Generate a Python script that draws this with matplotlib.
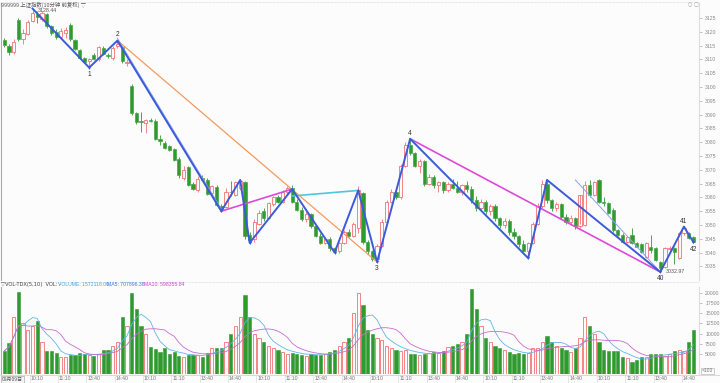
import matplotlib.pyplot as plt
import numpy as np
import pandas as pd

plt.rcParams['font.family'] = ['Liberation Sans', 'Noto Sans CJK SC', 'DejaVu Sans']

# 10-minute bars, 3 bars of the previous session + 6 sessions x 24 bars
opens = [3117.0, 3115.0, 3112.5,
         3124.3, 3117.5, 3119.2, 3124.0, 3126.5, 3124.6, 3126.3, 3122.0, 3120.0, 3118.2, 3119.6, 3122.3,
         3117.0, 3113.4, 3110.5, 3109.4, 3111.6, 3110.2, 3114.2, 3111.6, 3110.4, 3114.7, 3114.5, 3108.5,
         3100.5, 3090.5, 3087.5, 3086.9, 3088.0, 3087.8, 3081.0, 3079.8, 3078.5, 3077.5, 3074.0, 3067.0,
         3071.0, 3065.0, 3062.5, 3067.0, 3066.2, 3061.5, 3063.8, 3057.0, 3056.5, 3062.0, 3061.0, 3063.5,
         3065.5, 3046.5, 3044.8, 3050.5, 3055.0, 3052.5, 3057.5, 3060.0, 3058.5, 3062.0, 3063.3, 3058.5,
         3055.5, 3052.0, 3054.0, 3049.5, 3046.0, 3043.5, 3045.0, 3041.5, 3040.5, 3043.5, 3047.5, 3046.0,
         3049.0, 3061.5, 3044.0, 3040.5, 3037.5, 3042.5, 3051.0, 3058.5, 3062.0, 3060.0, 3071.5, 3079.0,
         3076.0, 3071.5, 3073.0, 3065.0, 3067.5, 3064.5, 3065.5, 3062.5, 3065.0, 3063.5, 3062.0, 3064.5,
         3063.0, 3059.0, 3056.0, 3058.5, 3055.0, 3057.0, 3052.5, 3050.0, 3051.5, 3047.5, 3046.0, 3043.0,
         3040.5, 3043.5, 3050.5, 3057.0, 3065.0, 3059.0, 3056.0, 3057.5, 3053.0, 3051.0, 3052.5, 3049.5,
         3050.0, 3064.5, 3061.0, 3066.3, 3058.5, 3058.0, 3055.4, 3048.0, 3046.4, 3043.8, 3046.4, 3043.5,
         3043.0, 3038.4, 3042.0, 3041.6, 3036.6, 3034.8, 3041.4, 3041.6, 3038.0, 3047.0, 3047.1, 3045.6]
highs = [3117.8, 3115.5, 3117.2,
         3125.0, 3121.0, 3124.2, 3128.4, 3127.6, 3127.5, 3126.8, 3122.6, 3121.0, 3121.2, 3121.8, 3123.0,
         3117.4, 3113.8, 3111.0, 3110.4, 3112.2, 3114.8, 3114.8, 3112.4, 3114.8, 3116.8, 3115.0, 3110.0,
         3101.0, 3091.0, 3091.0, 3088.5, 3088.6, 3088.4, 3082.5, 3080.4, 3079.0, 3078.0, 3074.6, 3071.5,
         3071.5, 3065.5, 3067.6, 3068.0, 3067.0, 3064.5, 3064.5, 3057.5, 3063.5, 3066.0, 3066.0, 3066.3,
         3066.0, 3047.5, 3052.0, 3055.5, 3056.0, 3058.5, 3060.5, 3061.0, 3062.5, 3064.0, 3064.5, 3059.5,
         3056.5, 3055.0, 3054.5, 3050.0, 3047.0, 3045.5, 3045.5, 3042.0, 3044.0, 3048.0, 3048.5, 3051.0,
         3064.0, 3062.0, 3044.5, 3041.0, 3043.0, 3052.0, 3059.0, 3063.0, 3063.0, 3072.0, 3080.0, 3081.2,
         3076.5, 3074.0, 3073.5, 3068.5, 3068.0, 3066.0, 3066.0, 3065.5, 3066.5, 3066.0, 3065.0, 3066.0,
         3064.0, 3060.5, 3059.5, 3059.0, 3057.5, 3057.5, 3053.0, 3052.5, 3052.0, 3049.0, 3046.5, 3044.5,
         3044.0, 3051.0, 3058.0, 3066.3, 3066.0, 3059.5, 3058.5, 3058.0, 3054.0, 3053.5, 3053.0, 3050.5,
         3066.0, 3066.3, 3066.0, 3066.5, 3060.0, 3058.5, 3056.0, 3048.5, 3047.0, 3045.8, 3049.0, 3044.0,
         3043.5, 3044.0, 3046.5, 3042.0, 3037.0, 3042.0, 3042.5, 3042.0, 3047.5, 3049.4, 3047.5, 3046.0]
lows = [3114.5, 3111.5, 3112.0,
        3116.8, 3115.5, 3118.8, 3123.5, 3123.0, 3124.0, 3121.5, 3118.8, 3117.2, 3117.6, 3117.9, 3116.5,
        3113.2, 3110.2, 3109.0, 3107.0, 3109.8, 3109.4, 3111.4, 3110.6, 3109.8, 3114.0, 3108.8, 3107.5,
        3090.0, 3086.5, 3083.6, 3083.4, 3087.3, 3080.6, 3078.8, 3077.5, 3076.8, 3073.0, 3067.0, 3066.3,
        3064.0, 3062.7, 3062.0, 3066.0, 3060.8, 3060.2, 3057.0, 3055.0, 3056.0, 3060.5, 3060.5, 3062.8,
        3045.0, 3043.5, 3044.0, 3050.0, 3051.5, 3052.0, 3057.0, 3058.0, 3058.0, 3061.0, 3058.0, 3055.0,
        3051.5, 3051.0, 3049.0, 3045.5, 3043.0, 3043.0, 3040.5, 3040.0, 3040.0, 3043.0, 3045.5, 3045.5,
        3047.0, 3043.0, 3039.5, 3037.0, 3036.6, 3042.0, 3050.5, 3058.0, 3059.5, 3059.5, 3071.0, 3075.5,
        3071.0, 3069.0, 3064.0, 3064.5, 3063.5, 3062.0, 3061.5, 3062.0, 3063.0, 3061.5, 3061.0, 3062.0,
        3058.0, 3055.0, 3055.5, 3054.0, 3053.5, 3051.5, 3049.0, 3049.0, 3046.5, 3045.0, 3042.0, 3039.5,
        3038.0, 3043.0, 3050.0, 3056.0, 3058.0, 3055.0, 3055.0, 3052.0, 3050.5, 3050.0, 3048.5, 3049.0,
        3049.5, 3060.0, 3060.5, 3058.0, 3057.0, 3054.0, 3047.5, 3046.0, 3043.5, 3043.5, 3043.0, 3042.0,
        3040.0, 3038.0, 3040.0, 3037.0, 3032.97, 3034.5, 3040.5, 3036.0, 3037.5, 3046.5, 3045.0, 3043.5]
closes = [3115.3, 3112.8, 3116.2,
          3117.4, 3119.6, 3123.6, 3126.8, 3125.2, 3126.9, 3122.2, 3119.6, 3118.0, 3120.1, 3120.6, 3117.2,
          3113.7, 3110.6, 3109.2, 3110.0, 3110.2, 3114.4, 3112.0, 3111.2, 3114.0, 3115.6, 3109.4, 3109.2,
          3090.6, 3087.3, 3087.2, 3088.0, 3087.7, 3081.0, 3080.5, 3077.9, 3077.2, 3073.5, 3068.0, 3070.0,
          3064.5, 3063.0, 3066.5, 3066.3, 3061.2, 3064.0, 3057.3, 3055.4, 3062.0, 3061.8, 3065.5, 3065.8,
          3046.0, 3044.5, 3051.0, 3054.5, 3052.5, 3058.0, 3060.0, 3058.5, 3062.0, 3063.5, 3058.5, 3055.5,
          3052.0, 3054.0, 3049.5, 3046.0, 3043.5, 3045.0, 3041.5, 3040.5, 3043.5, 3047.5, 3046.0, 3050.5,
          3062.5, 3044.0, 3040.5, 3037.5, 3042.5, 3051.0, 3058.5, 3062.0, 3060.0, 3071.5, 3079.0, 3076.0,
          3071.5, 3073.0, 3065.0, 3067.5, 3064.5, 3065.5, 3062.5, 3065.0, 3063.5, 3062.0, 3064.5, 3063.0,
          3059.0, 3056.0, 3058.5, 3055.0, 3057.0, 3052.5, 3050.0, 3051.5, 3047.5, 3046.0, 3043.0, 3040.5,
          3043.5, 3050.5, 3057.0, 3065.0, 3059.0, 3056.0, 3057.5, 3053.0, 3051.0, 3052.5, 3049.5, 3061.0,
          3064.5, 3061.0, 3065.5, 3058.3, 3058.0, 3054.3, 3048.2, 3046.4, 3043.8, 3045.6, 3043.5, 3042.0,
          3040.2, 3043.5, 3041.0, 3037.3, 3034.4, 3041.6, 3041.8, 3040.2, 3047.1, 3049.0, 3045.3, 3043.8]
volumes = [5700, 7700, 14000,
           20300, 12500, 11000, 12000, 13000, 7800, 5700, 5700, 5200, 4200, 4200, 4700,
           4800, 5200, 5000, 4700, 4500, 5000, 6000, 6000, 7000, 8000, 14000, 12000,
           20000, 16000, 12000, 10000, 6800, 6200, 5500, 6500, 5000, 5500, 4500, 4300,
           4800, 4800, 4800, 4200, 5300, 6500, 6500, 6500, 8000, 10000, 12000, 14000,
           19500, 14000, 10000, 9000, 8000, 7000, 6500, 6000, 5500, 5000, 5200, 5000,
           4800, 4500, 5000, 4600, 4800, 5000, 5500, 6000, 7000, 8000, 9000, 15000,
           20000, 17000, 11000, 10000, 9000, 8500, 7000, 6500, 6000, 5800, 6000, 5000,
           5000, 4800, 5000, 5200, 5400, 5200, 5600, 6800, 7000, 7500, 8000, 10000,
           21000, 16000, 12000, 9000, 8000, 7000, 6500, 6000, 5500, 5000, 5200, 5000,
           5200, 6500, 6500, 8000, 9500, 8000, 7000, 6500, 6000, 5500, 6500, 9000,
           14000, 12000, 10000, 8000, 6000, 5800, 5800, 5700, 4300, 3900, 3000, 3400,
           4100, 4100, 5000, 5000, 5000, 4500, 5000, 5700, 6000, 5600, 7800, 10900]

# zigzag turning points (bar index, price)
zz_idx = [6, 18, 24, 46, 50, 52, 61, 70, 75, 79, 86, 111, 115, 139, 144, 146]
zz_px = [3128.4, 3107.0, 3116.8, 3055.0, 3066.3, 3043.5, 3063.0, 3040.0, 3062.5, 3036.6,
         3081.2, 3038.0, 3066.3, 3032.97, 3049.4, 3043.8]
zz_names = {1: '1', 2: '2', 9: '3', 10: '4', 13: '40', 14: '41', 15: '42'}

time_labels = ['10:10', '11:10', '13:40', '14:40']
vol_ticks = [5000, 7500, 10000, 12500, 15000, 17500, 20000]
price_ticks = list(range(3035, 3130, 5))

UP = '#f27272'
DOWN = '#2f9a2f'
BG = '#fcfcfc'
W, H = 720, 383
n = len(closes)
x = np.arange(n)
x0, dx = 3.2, 4.727  # pixel of bar 0, pixels per bar
xlim = (-x0 / dx, (699 - x0) / dx)

fig = plt.figure(figsize=(7.2, 3.83), dpi=100)
fig.patch.set_facecolor(BG)

ax = fig.add_axes([1 / W, (H - 280) / H, 698 / W, 277 / H])
axv = fig.add_axes([1 / W, (H - 374) / H, 698 / W, 87 / H])
for a in (ax, axv):
    a.set_facecolor(BG)
    a.set_xlim(*xlim)
    a.set_xticks([])
    for s in a.spines.values():
        s.set_visible(False)
    a.spines['right'].set_visible(True)
    a.spines['right'].set_color('#e8d8dc')
    a.spines['left'].set_visible(True)
    a.spines['left'].set_color('#aaaaaa')
    a.yaxis.tick_right()
    a.tick_params(axis='y', length=2, width=0.5, colors='#aaaaaa', labelcolor='#888888',
                  labelsize=3.7, pad=2.5)

ax.set_ylim(3030.07, 3130.4)
ax.set_yticks(price_ticks)
axv.set_ylim(0, 21530)
axv.set_yticks(vol_ticks)

# candles
bw = 0.68
for i in range(n):
    o, h, l, c = opens[i], highs[i], lows[i], closes[i]
    up = c >= o
    col = UP if up else DOWN
    lo, hi = min(o, c), max(o, c)
    ax.vlines(i, l, lo, color=col, lw=0.6)
    ax.vlines(i, hi, h, color=col, lw=0.6)
    if up:
        ax.add_patch(plt.Rectangle((i - bw / 2, lo), bw, max(hi - lo, 0.15),
                                   facecolor=BG, edgecolor=col, lw=0.6))
    else:
        ax.add_patch(plt.Rectangle((i - bw / 2, lo), bw, max(hi - lo, 0.15),
                                   facecolor=col, edgecolor=col, lw=0.4))

# zigzag lines
zx = np.array(zz_idx)
zy = np.array(zz_px)
ax.plot([zx[2], zx[9]], [zy[2], zy[9]], color='#f59a5e', lw=0.9)
ax.plot([zx[3], zx[6]], [zy[3], zy[6]], color='#e048d8', lw=1.2)
ax.plot([zx[6], zx[8]], [zy[6] - 2.5, zy[8]], color='#4fc6e0', lw=1.2)
ax.plot([zx[10], zx[13]], [zy[10], zy[13]], color='#e048d8', lw=1.2)
ax.plot([zx[2], zx[3]], [zy[2] + 0.8, zy[3] + 0.8], color='#8aa4f0', lw=0.7)
ax.plot([zx[12] + 6, zx[13]], [zy[12], zy[13]], color='#8aa4f0', lw=0.7)
ax.plot(zx, zy, color='#3b5bdb', lw=1.4)
for k in range(1, len(zx)):
    low = zy[k] < zy[k - 1]
    ax.plot(zx[k], zy[k], marker='v' if low else '^', ms=2.2, color='#3b5bdb', mew=0)
for k, name in zz_names.items():
    above = zy[k] > zy[k - 1]
    ax.annotate(name, (zx[k], zy[k]), xytext=(0, 4 if above else -5),
                textcoords='offset points', ha='center', va='center',
                fontsize=4.8, color='#333333')
ax.annotate('3128.44', (6.3, 3128.44), xytext=(3, -1.5), textcoords='offset points',
            fontsize=3.8, color='#555555', va='center')
ax.annotate('3032.97', (139.3, 3032.97), xytext=(3, 0), textcoords='offset points',
            fontsize=3.8, color='#555555', va='center')

fig.text(1 / W, 1 - 4.5 / H, '999999 上证指数(10分钟 前复权) ▽', fontsize=3.9,
         color='#555555', va='center', family=['Noto Sans CJK SC', 'DejaVu Sans'])
fig.text(688 / W, 1 - 4.5 / H, '○ ▢', fontsize=3.6, color='#999999', va='center',
         family=['DejaVu Sans'])

# volume
vol = pd.Series(volumes, dtype=float)
for i in range(n):
    if closes[i] >= opens[i]:
        axv.add_patch(plt.Rectangle((i - bw / 2, 0), bw, volumes[i],
                                    facecolor=BG, edgecolor=UP, lw=0.6))
    else:
        axv.add_patch(plt.Rectangle((i - bw / 2, 0), bw, volumes[i],
                                    facecolor=DOWN, edgecolor=DOWN, lw=0.4))
axv.plot(x, vol.rolling(5, min_periods=1).mean(), color='#62b4ea', lw=0.6)
axv.plot(x, vol.rolling(10, min_periods=1).mean(), color='#c86bd0', lw=0.6)

hy = 1 - 284.5 / H
fig.text(1 / W, hy, '▽VOL-TDX(5,10)  VOL: -', fontsize=3.7, color='#444444', va='center',
         family=['DejaVu Sans'])
fig.text(58 / W, hy, 'VOLUME: 1572118.00', fontsize=3.7, color='#3fa8e8', va='center')
fig.text(107 / W, hy, 'MA5: 707896.38', fontsize=3.7, color='#3f74e8', va='center')
fig.text(144 / W, hy, 'MA10: 598355.84', fontsize=3.7, color='#cc44cc', va='center')
fig.add_artist(plt.Line2D([0, 699 / W], [1 - 281.5 / H] * 2, color='#c8d0dc',
                          lw=0.5, ls=(0, (1, 1))))
fig.add_artist(plt.Line2D([0, 699 / W], [1 - 2 / H] * 2, color='#c8d0dc',
                          lw=0.5, ls=(0, (1, 1))))
fig.text(702 / W, 1 - 371 / H, '×100', fontsize=3.6, color='#777777', va='center',
         bbox=dict(boxstyle='square,pad=0.15', fc=BG, ec='#aaaaaa', lw=0.4))

# time axis
fig.add_artist(plt.Line2D([0, 1], [1 - 375 / H] * 2, color='#cccccc', lw=0.5))
fig.text(2 / W, 1 - 379 / H, '09月09日', fontsize=3.6, color='#555555', va='center',
         family=['Noto Sans CJK SC', 'DejaVu Sans'],
         bbox=dict(boxstyle='square,pad=0.2', fc='#f4f4f4', ec='#999999', lw=0.4))
for d in range(6):
    for j, lab in enumerate(time_labels):
        i = 3 + d * 24 + 3 + j * 6
        px = x0 + i * dx
        fig.text((px - 1) / W, 1 - 379 / H, lab, fontsize=3.7, color='#777777', va='center')
        fig.add_artist(plt.Line2D([(px - 2) / W] * 2, [1 - 375 / H, 1 - 383 / H],
                                  color='#d4d4d4', lw=0.4))

fig.savefig('out.png', dpi=100, facecolor=fig.get_facecolor())
